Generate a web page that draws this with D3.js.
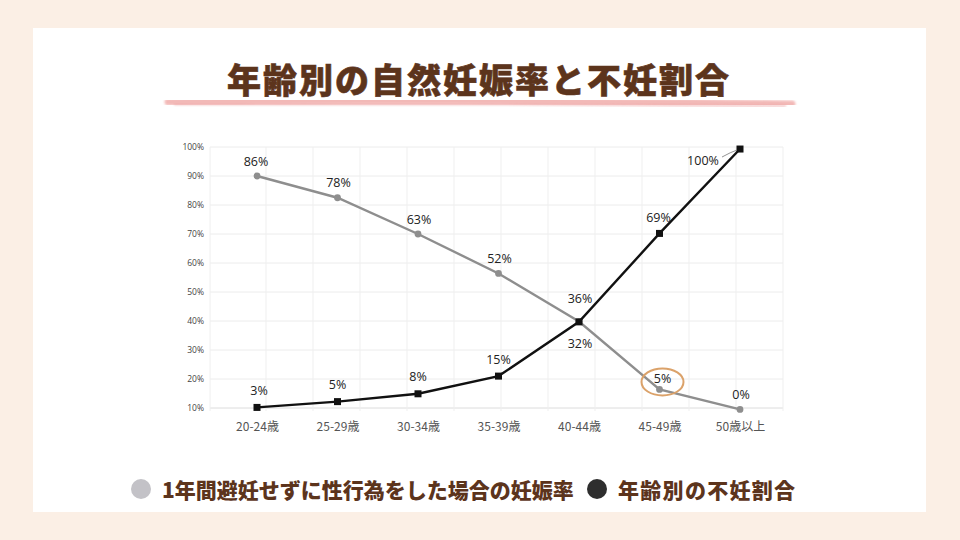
<!DOCTYPE html>
<html>
<head>
<meta charset="utf-8">
<script src="https://cdn.jsdelivr.net/npm/d3@7"></script>
<style>
  html, body { margin: 0; padding: 0; background: #fbefe5; }
  svg { display: block; }
</style>
</head>
<body>
<svg id="chart" width="960" height="540"></svg>
<script>
// ---- data ----
const categories = ["20-24歳", "25-29歳", "30-34歳", "35-39歳", "40-44歳", "45-49歳", "50歳以上"];
// plotted heights as drawn in the picture (against the % axis)
const pregnancyPlot = [90, 82.5, 70, 56.4, 39.8, 16.4, 9.5];
const pregnancyLabels = ["86%", "78%", "63%", "52%", "32%", "5%", "0%"];
const infertilityPlot = [10.2, 12.2, 14.9, 21, 39.7, 70.2, 99.3];
const infertilityLabels = ["3%", "5%", "8%", "15%", "36%", "69%", "100%"];
const yTicks = [10, 20, 30, 40, 50, 60, 70, 80, 90, 100];
const title = "年齢別の自然妊娠率と不妊割合";
const legendNames = ["1年間避妊せずに性行為をした場合の妊娠率", "年齢別の不妊割合"];

// ---- drawing ----
const svg = d3.select("#chart");
const brown = "#5c341c";
const jp = "'Noto Sans CJK JP', 'Noto Sans', sans-serif";

svg.append("rect").attr("width", 960).attr("height", 540).attr("fill", "#fbefe5");
svg.append("rect").attr("x", 33).attr("y", 28).attr("width", 893).attr("height", 484).attr("fill", "#ffffff");

// brush underline
const defs = svg.append("defs");
defs.append("filter").attr("id", "soft")
  .append("feGaussianBlur").attr("stdDeviation", 1.2);
svg.append("path")
  .attr("d", "M168,102 C300,100 600,101 792,104")
  .attr("stroke", "#f2b6b4").attr("stroke-width", 7).attr("stroke-linecap", "round")
  .attr("fill", "none").attr("filter", "url(#soft)").attr("opacity", 0.95);
svg.append("path")
  .attr("d", "M175,104 C320,103 620,104 785,106")
  .attr("stroke", "#eea8a8").attr("stroke-width", 2.5).attr("stroke-linecap", "round")
  .attr("fill", "none").attr("filter", "url(#soft)").attr("opacity", 0.6);

svg.append("text")
  .attr("x", 479).attr("y", 78)
  .attr("text-anchor", "middle").attr("dominant-baseline", "central")
  .attr("font-family", jp).attr("font-weight", 900).attr("font-size", 34)
  .attr("letter-spacing", 2)
  .attr("stroke", brown).attr("stroke-width", 0.6)
  .attr("fill", brown).text(title);

// scales
const plotLeft = 210, plotRight = 783;
const x = d3.scalePoint().domain(categories).range([257, 740]);
const y = d3.scaleLinear().domain([10, 100]).range([408, 147]);

const grid = svg.append("g");
// horizontal grid
grid.selectAll("line.h").data(yTicks).join("line")
  .attr("x1", plotLeft).attr("x2", plotRight)
  .attr("y1", d => y(d)).attr("y2", d => y(d))
  .attr("stroke", d => d === 10 ? "#dcdcdc" : "#ececec").attr("stroke-width", 1);
// vertical grid (faint, regular spacing like the source)
const gx = d3.scaleLinear().domain([0, 11]).range([266, plotRight]);
grid.selectAll("line.v").data(d3.range(0, 12).concat([-1.19])).join("line")
  .attr("x1", d => gx(d)).attr("x2", d => gx(d))
  .attr("y1", y(100)).attr("y2", y(10) + 3)
  .attr("stroke", "#efefef").attr("stroke-width", 1);

// y axis labels
const yAxis = d3.axisLeft(y).tickValues(yTicks).tickFormat(d => d + "%").tickSize(0).tickPadding(6);
const ya = svg.append("g").attr("transform", `translate(${plotLeft},0)`).call(yAxis);
ya.select(".domain").remove();
ya.selectAll("text").attr("font-family", "'Open Sans', 'Noto Sans', sans-serif").attr("font-size", 8.5).attr("fill", "#444");

// x axis labels
const xAxis = d3.axisBottom(x).tickSize(0).tickPadding(0);
const xa = svg.append("g").attr("transform", `translate(0,${y(10) + 13})`).call(xAxis);
xa.select(".domain").remove();
xa.selectAll("text").attr("font-family", jp).attr("font-size", 12).attr("fill", "#555").attr("dy", "0.8em");

const line = d3.line().x((d, i) => x(categories[i])).y(d => y(d));

// gray series
svg.append("path").datum(pregnancyPlot).attr("d", line)
  .attr("fill", "none").attr("stroke", "#8e8e8e").attr("stroke-width", 2.4);
svg.selectAll("circle.p").data(pregnancyPlot).join("circle")
  .attr("cx", (d, i) => x(categories[i])).attr("cy", d => y(d)).attr("r", 3.4)
  .attr("fill", "#8e8e8e");

// black series
svg.append("path").datum(infertilityPlot).attr("d", line)
  .attr("fill", "none").attr("stroke", "#111").attr("stroke-width", 2.4);
svg.selectAll("rect.b").data(infertilityPlot).join("rect")
  .attr("x", (d, i) => x(categories[i]) - 3.5).attr("y", d => y(d) - 3.5)
  .attr("width", 7).attr("height", 7).attr("fill", "#111");

// labels
const labelFont = "'Open Sans', 'Noto Sans', sans-serif";
function addLabels(vals, labels, place) {
  svg.append("g").selectAll("text").data(vals).join("text")
    .attr("x", (d, i) => x(categories[i]) + place(i).dx)
    .attr("y", (d, i) => y(d) + place(i).dy)
    .attr("text-anchor", "middle").attr("dominant-baseline", "central")
    .attr("font-family", labelFont).attr("font-size", 12.5).attr("fill", "#222")
    .text((d, i) => labels[i]);
}
addLabels(pregnancyPlot, pregnancyLabels, i => {
  if (i === 4) return { dx: 1, dy: 22 };
  if (i === 5) return { dx: 3, dy: -11 };
  return { dx: i === 0 ? -1 : 1, dy: -15 };
});
addLabels(infertilityPlot, infertilityLabels, i => {
  if (i === 6) return { dx: -37, dy: 11 };
  if (i === 4) return { dx: 1, dy: -23 };
  if (i === 5) return { dx: -1, dy: -16 };
  return { dx: i === 0 ? 2 : 0, dy: -17 };
});
// leader line for 100%
svg.append("path")
  .attr("d", `M${x(categories[6]) - 18},${y(infertilityPlot[6]) + 8} Q${x(categories[6]) - 9},${y(infertilityPlot[6]) + 3} ${x(categories[6]) - 3},${y(infertilityPlot[6]) + 1}`)
  .attr("fill", "none").attr("stroke", "#777").attr("stroke-width", 0.8);

// orange highlight around 45-49 gray point
svg.append("ellipse")
  .attr("cx", x(categories[5]) + 3).attr("cy", y(pregnancyPlot[5]) - 7.5)
  .attr("rx", 21).attr("ry", 13.5)
  .attr("fill", "none").attr("stroke", "#dba26a").attr("stroke-width", 2);

// legend
const lg = svg.append("g").attr("font-family", jp).attr("font-weight", 900).attr("font-size", 21).attr("fill", brown);
lg.append("circle").attr("cx", 141).attr("cy", 489).attr("r", 10).attr("fill", "#c3c2c7");
lg.append("text").attr("x", 162).attr("y", 489).attr("dominant-baseline", "central").text(legendNames[0]);
lg.append("circle").attr("cx", 597).attr("cy", 489).attr("r", 10).attr("fill", "#2e2e2e");
lg.append("text").attr("x", 618).attr("y", 489).attr("dominant-baseline", "central")
  .attr("letter-spacing", 1.3).text(legendNames[1]);
</script>
</body>
</html>
